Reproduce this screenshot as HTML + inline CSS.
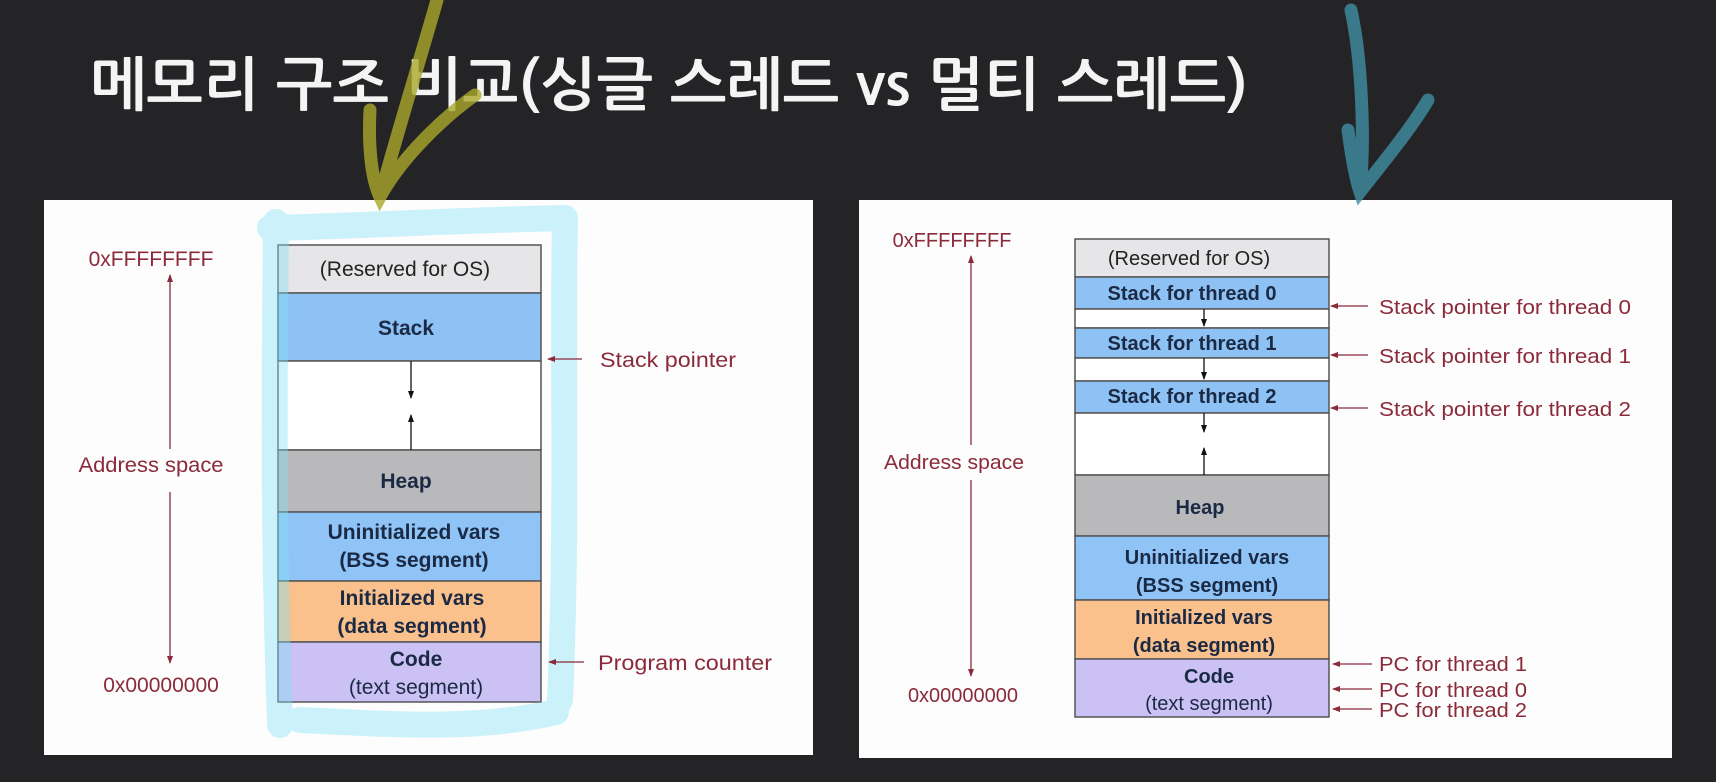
<!DOCTYPE html>
<html><head><meta charset="utf-8"><style>
html,body{margin:0;padding:0;background:#242326;}
svg{display:block}
text{font-family:"Liberation Sans","Noto Sans CJK KR",sans-serif;}
</style></head><body>
<svg width="1716" height="782" viewBox="0 0 1716 782" xmlns="http://www.w3.org/2000/svg">
<defs>
<marker id="ar" markerWidth="8" markerHeight="8" refX="7" refY="4" orient="auto" markerUnits="userSpaceOnUse"><path d="M0,1 L8,4 L0,7 z" fill="#8b2a3a"/></marker>
<marker id="ak" markerWidth="8" markerHeight="8" refX="7" refY="4" orient="auto" markerUnits="userSpaceOnUse"><path d="M0,1 L8,4 L0,7 z" fill="#111"/></marker>
</defs>
<rect width="1716" height="782" fill="#242326"/>
<text x="90" y="105" fill="#f4f4f4" font-size="58" font-weight="bold" style="font-family:'NanumGothic','Noto Sans CJK KR',sans-serif" textLength="1158" lengthAdjust="spacingAndGlyphs">메모리 구조 비교(싱글 스레드 vs 멀티 스레드)</text>

<rect x="44" y="200" width="769" height="555" fill="#fdfdfd"/>
<rect x="859" y="200" width="813" height="558" fill="#fdfdfd"/>

<!-- left diagram -->
<g stroke="#555" stroke-width="1.5">
<rect x="278" y="245" width="263" height="48" fill="#e6e6e8"/>
<rect x="278" y="293" width="263" height="68" fill="#8fc2f4"/>
<rect x="278" y="361" width="263" height="89" fill="#ffffff"/>
<rect x="278" y="450" width="263" height="62" fill="#b9b9bb"/>
<rect x="278" y="512" width="263" height="69" fill="#90c4f7"/>
<rect x="278" y="581" width="263" height="61" fill="#fbc18d"/>
<rect x="278" y="642" width="263" height="60" fill="#cbc1f4"/>
</g>
<line x1="411" y1="361" x2="411" y2="398" stroke="#111" stroke-width="1.3" marker-end="url(#ak)"/>
<line x1="411" y1="450" x2="411" y2="415" stroke="#111" stroke-width="1.3" marker-end="url(#ak)"/>
<g fill="#1b2a44" font-size="21" text-anchor="middle" font-weight="bold">
<text x="405" y="276" font-weight="normal" fill="#222">(Reserved for OS)</text>
<text x="406" y="335">Stack</text>
<text x="406" y="488">Heap</text>
<text x="414" y="539">Uninitialized vars</text>
<text x="414" y="567">(BSS segment)</text>
<text x="412" y="605">Initialized vars</text>
<text x="412" y="633">(data segment)</text>
<text x="416" y="666">Code</text>
<text x="416" y="694" font-weight="normal">(text segment)</text>
</g>
<path d="M276,222 C 275,350 272,500 280,725 M270,228 C 380,225 470,220 565,218 M565,220 C 562,350 568,520 560,700 M300,720 C 400,725 480,730 556,712" fill="none" stroke="#7fe0f5" stroke-opacity="0.4" stroke-width="26" stroke-linecap="round"/>
<g fill="#8b2a3a" font-size="21">
<text x="151" y="266" text-anchor="middle">0xFFFFFFFF</text>
<text x="151" y="472" text-anchor="middle" textLength="145" lengthAdjust="spacingAndGlyphs">Address space</text>
<text x="161" y="692" text-anchor="middle">0x00000000</text>
<text x="600" y="367" textLength="136" lengthAdjust="spacingAndGlyphs">Stack pointer</text>
<text x="598" y="670" textLength="174" lengthAdjust="spacingAndGlyphs">Program counter</text>
</g>
<line x1="170" y1="449" x2="170" y2="275" stroke="#8b2a3a" stroke-width="1.3" marker-end="url(#ar)"/>
<line x1="170" y1="492" x2="170" y2="663" stroke="#8b2a3a" stroke-width="1.3" marker-end="url(#ar)"/>
<line x1="582" y1="359" x2="548" y2="359" stroke="#8b2a3a" stroke-width="1.3" marker-end="url(#ar)"/>
<line x1="584" y1="662" x2="549" y2="662" stroke="#8b2a3a" stroke-width="1.3" marker-end="url(#ar)"/>

<!-- right diagram -->
<g stroke="#555" stroke-width="1.5">
<rect x="1075" y="239" width="254" height="38" fill="#e6e6e8"/>
<rect x="1075" y="277" width="254" height="32" fill="#8fc2f4"/>
<rect x="1075" y="309" width="254" height="19" fill="#fff"/>
<rect x="1075" y="328" width="254" height="30" fill="#8fc2f4"/>
<rect x="1075" y="358" width="254" height="23" fill="#fff"/>
<rect x="1075" y="381" width="254" height="32" fill="#8fc2f4"/>
<rect x="1075" y="413" width="254" height="62" fill="#fff"/>
<rect x="1075" y="475" width="254" height="61" fill="#b9b9bb"/>
<rect x="1075" y="536" width="254" height="64" fill="#90c4f7"/>
<rect x="1075" y="600" width="254" height="59" fill="#fbc18d"/>
<rect x="1075" y="659" width="254" height="58" fill="#cbc1f4"/>
</g>
<g stroke="#111" stroke-width="1.3">
<line x1="1204" y1="309" x2="1204" y2="326" marker-end="url(#ak)"/>
<line x1="1204" y1="358" x2="1204" y2="379" marker-end="url(#ak)"/>
<line x1="1204" y1="413" x2="1204" y2="432" marker-end="url(#ak)"/>
<line x1="1204" y1="475" x2="1204" y2="448" marker-end="url(#ak)"/>
</g>
<g fill="#1b2a44" font-size="20" text-anchor="middle" font-weight="bold">
<text x="1189" y="265" font-weight="normal" fill="#222">(Reserved for OS)</text>
<text x="1192" y="300">Stack for thread 0</text>
<text x="1192" y="350">Stack for thread 1</text>
<text x="1192" y="403">Stack for thread 2</text>
<text x="1200" y="514">Heap</text>
<text x="1207" y="564">Uninitialized vars</text>
<text x="1207" y="592">(BSS segment)</text>
<text x="1204" y="624">Initialized vars</text>
<text x="1204" y="652">(data segment)</text>
<text x="1209" y="683">Code</text>
<text x="1209" y="710" font-weight="normal">(text segment)</text>
</g>
<g fill="#8b2a3a" font-size="20">
<text x="952" y="247" text-anchor="middle">0xFFFFFFFF</text>
<text x="954" y="469" text-anchor="middle" textLength="140" lengthAdjust="spacingAndGlyphs">Address space</text>
<text x="963" y="702" text-anchor="middle">0x00000000</text>
<text x="1379" y="314" textLength="252" lengthAdjust="spacingAndGlyphs">Stack pointer for thread 0</text>
<text x="1379" y="363" textLength="252" lengthAdjust="spacingAndGlyphs">Stack pointer for thread 1</text>
<text x="1379" y="416" textLength="252" lengthAdjust="spacingAndGlyphs">Stack pointer for thread 2</text>
<text x="1379" y="671" textLength="148" lengthAdjust="spacingAndGlyphs">PC for thread 1</text>
<text x="1379" y="697" textLength="148" lengthAdjust="spacingAndGlyphs">PC for thread 0</text>
<text x="1379" y="717" textLength="148" lengthAdjust="spacingAndGlyphs">PC for thread 2</text>
</g>
<g stroke="#8b2a3a" stroke-width="1.3">
<line x1="971" y1="445" x2="971" y2="256" marker-end="url(#ar)"/>
<line x1="971" y1="480" x2="971" y2="676" marker-end="url(#ar)"/>
<line x1="1368" y1="306" x2="1331" y2="306" marker-end="url(#ar)"/>
<line x1="1368" y1="355" x2="1331" y2="355" marker-end="url(#ar)"/>
<line x1="1368" y1="408" x2="1331" y2="408" marker-end="url(#ar)"/>
<line x1="1372" y1="664" x2="1333" y2="664" marker-end="url(#ar)"/>
<line x1="1372" y1="689" x2="1333" y2="689" marker-end="url(#ar)"/>
<line x1="1372" y1="709" x2="1333" y2="709" marker-end="url(#ar)"/>
</g>

<path d="M437,0 C 420,60 395,140 380,197 M370,110 C 368,150 372,180 380,197 C 400,160 440,120 475,95" fill="none" stroke="#a9a82a" stroke-opacity="0.8" stroke-width="13" stroke-linecap="round"/>
<path d="M1351,10 C 1362,60 1365,140 1360,190 M1348,130 C 1352,160 1356,180 1360,192 C 1385,160 1410,130 1428,100" fill="none" stroke="#3f8fa3" stroke-opacity="0.8" stroke-width="13" stroke-linecap="round"/>
</svg>
</body></html>
